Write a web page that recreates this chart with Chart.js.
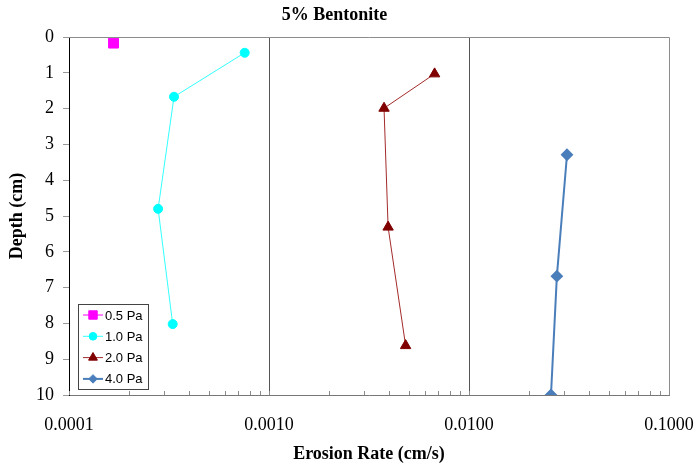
<!DOCTYPE html>
<html>
<head>
<meta charset="utf-8">
<script src="https://cdn.jsdelivr.net/npm/chart.js@4/dist/chart.umd.min.js"></script>
<style>
  html, body { margin: 0; padding: 0; background: #fff; }
  #wrap { width: 697px; height: 469px; }
</style>
</head>
<body>
<div id="wrap"><canvas id="erosionChart"></canvas></div>
<script>
// Erosion rate (cm/s) vs depth (cm), one series per shear stress
const seriesLabels = ['0.5 Pa', '1.0 Pa', '2.0 Pa', '4.0 Pa'];

const rate05 = [0.000167];
const depth05 = [0.17];

const rate10 = [0.000756, 0.000335, 0.000279, 0.000330];
const depth10 = [0.44, 1.67, 4.80, 8.02];

const rate20 = [0.00673, 0.00376, 0.00394, 0.00482];
const depth20 = [1.03, 1.99, 5.31, 8.62];

const rate40 = [0.0309, 0.0275, 0.0257];
const depth40 = [3.29, 6.68, 10.0];

const xTickValues = [0.0001, 0.001, 0.01, 0.1];
const yTickValues = [0, 1, 2, 3, 4, 5, 6, 7, 8, 9, 10];

function pairs(xs, ys) {
    return xs.map((x, i) => ({ x: x, y: ys[i] }));
}

const serif = "'Liberation Serif', 'Times New Roman', serif";
const sans = "'Liberation Sans', Arial, sans-serif";

// frame: grey top/right edges + small inward minor ticks on the x axis
const framePlugin = {
    id: 'frame',
    afterDraw(chart) {
        const { ctx, chartArea: a, scales } = chart;
        ctx.save();
        ctx.strokeStyle = '#8c8c8c';
        ctx.lineWidth = 1;
        ctx.beginPath();
        ctx.moveTo(a.left, a.top + 0.5);
        ctx.lineTo(a.right + 0.5, a.top + 0.5);
        ctx.lineTo(a.right + 0.5, a.bottom);
        ctx.stroke();

        scales.x.ticks.forEach(t => {
            const px = Math.round(scales.x.getPixelForValue(t.value)) + 0.5;
            ctx.beginPath();
            ctx.moveTo(px, a.bottom);
            ctx.lineTo(px, a.bottom - 4);
            ctx.stroke();
        });
        ctx.restore();
    }
};

// legend box drawn inside the plot, lower left
const boxLegend = {
    id: 'boxLegend',
    afterDraw(chart) {
        const { ctx, chartArea: a } = chart;
        const bx = a.left + 9, by = a.bottom - 91, bw = 70, bh = 85;
        ctx.save();
        ctx.fillStyle = '#fff';
        ctx.fillRect(bx, by, bw, bh);
        ctx.strokeStyle = '#444';
        ctx.lineWidth = 1;
        ctx.strokeRect(bx + 0.5, by + 0.5, bw, bh);
        ctx.font = '13px ' + sans;
        ctx.textBaseline = 'middle';
        chart.data.datasets.forEach((ds, i) => {
            const y = by + 11 + i * 21.3;
            ctx.strokeStyle = ds.borderColor;
            ctx.lineWidth = ds.borderWidth;
            ctx.beginPath();
            ctx.moveTo(bx + 5, y);
            ctx.lineTo(bx + 25, y);
            ctx.stroke();
            ctx.fillStyle = ds.pointBackgroundColor;
            ctx.strokeStyle = ds.pointBorderColor;
            ctx.lineWidth = 1;
            Chart.helpers.drawPoint(ctx, {
                pointStyle: ds.pointStyle,
                radius: ds.pointRadius * 0.85,
                rotation: 0,
                borderWidth: 1
            }, bx + 15, y);
            ctx.fillStyle = '#000';
            ctx.fillText(ds.label, bx + 27, y + 1);
        });
        ctx.restore();
    }
};

const ctx1 = document.getElementById('erosionChart');

new Chart(ctx1, {
    type: 'line',
    data: {
        datasets: [{
            label: seriesLabels[0],
            data: pairs(rate05, depth05),
            borderColor: '#ff00ff',
            borderWidth: 1,
            pointStyle: 'rect',
            pointRadius: 7,
            pointBackgroundColor: '#ff00ff',
            pointBorderColor: '#ff00ff'
        }, {
            label: seriesLabels[1],
            data: pairs(rate10, depth10),
            borderColor: '#33ffff',
            borderWidth: 1,
            pointStyle: 'circle',
            pointRadius: 4.5,
            pointBackgroundColor: '#00ffff',
            pointBorderColor: '#00ffff'
        }, {
            label: seriesLabels[2],
            data: pairs(rate20, depth20),
            borderColor: '#a32a2a',
            borderWidth: 1,
            pointStyle: 'triangle',
            pointRadius: 6,
            pointBackgroundColor: '#800000',
            pointBorderColor: '#800000'
        }, {
            label: seriesLabels[3],
            data: pairs(rate40, depth40),
            borderColor: '#4a7ebb',
            borderWidth: 2,
            pointStyle: 'rectRot',
            pointRadius: 5,
            pointBackgroundColor: '#4a7ebb',
            pointBorderColor: '#4a7ebb'
        }]
    },
    options: {
        responsive: true,
        maintainAspectRatio: false,
        animation: false,
        layout: { padding: { left: 0, right: 28, top: 0, bottom: 0 } },
        elements: { line: { tension: 0, fill: false } },
        plugins: {
            legend: { display: false },
            tooltip: { enabled: false },
            title: {
                display: true,
                text: '5% Bentonite',
                color: '#000',
                font: { family: serif, size: 18, weight: 'bold' },
                padding: { top: 5, bottom: 10.4 }
            }
        },
        scales: {
            x: {
                type: 'logarithmic',
                min: 0.0001,
                max: 0.1,
                afterBuildTicks(scale) {
                    const minors = [];
                    for (let d = 0; d < xTickValues.length; d++) {
                        minors.push({ value: xTickValues[d] });
                        if (d < xTickValues.length - 1) {
                            for (let m = 2; m <= 9; m++) minors.push({ value: xTickValues[d] * m });
                        }
                    }
                    scale.ticks = minors;
                },
                afterFit(scale) {
                    scale.height = 74;
                    scale.paddingLeft = 0;
                    scale.paddingRight = 0;
                },
                ticks: {
                    autoSkip: false,
                    maxRotation: 0,
                    padding: 19,
                    color: '#000',
                    font: { family: serif, size: 18 },
                    callback(v) {
                        return xTickValues.includes(v) ? v.toFixed(4) : '';
                    }
                },
                grid: {
                    drawTicks: false,
                    color(c) {
                        const v = c.tick && c.tick.value;
                        return (v === 0.001 || v === 0.01) ? '#555' : 'rgba(0,0,0,0)';
                    }
                },
                border: { color: '#777', width: 1 },
                title: {
                    display: true,
                    text: 'Erosion Rate (cm/s)',
                    color: '#000',
                    font: { family: serif, size: 18, weight: 'bold' },
                    padding: { top: 0, bottom: 4 }
                }
            },
            y: {
                reverse: true,
                min: 0,
                max: 10,
                afterBuildTicks(scale) {
                    scale.ticks = yTickValues.map(v => ({ value: v }));
                },
                afterFit(scale) {
                    scale.width = 69;
                    scale.paddingTop = 0;
                    scale.paddingBottom = 0;
                },
                ticks: {
                    padding: 9,
                    color: '#000',
                    font: { family: serif, size: 18 }
                },
                grid: {
                    drawOnChartArea: false,
                    drawTicks: true,
                    tickLength: 6,
                    color: '#999'
                },
                border: { color: '#000', width: 1 },
                title: {
                    display: true,
                    text: 'Depth (cm)',
                    color: '#000',
                    font: { family: serif, size: 18, weight: 'bold' },
                    padding: { top: 7, bottom: 0 }
                }
            }
        }
    },
    plugins: [framePlugin, boxLegend]
});
</script>
</body>
</html>
